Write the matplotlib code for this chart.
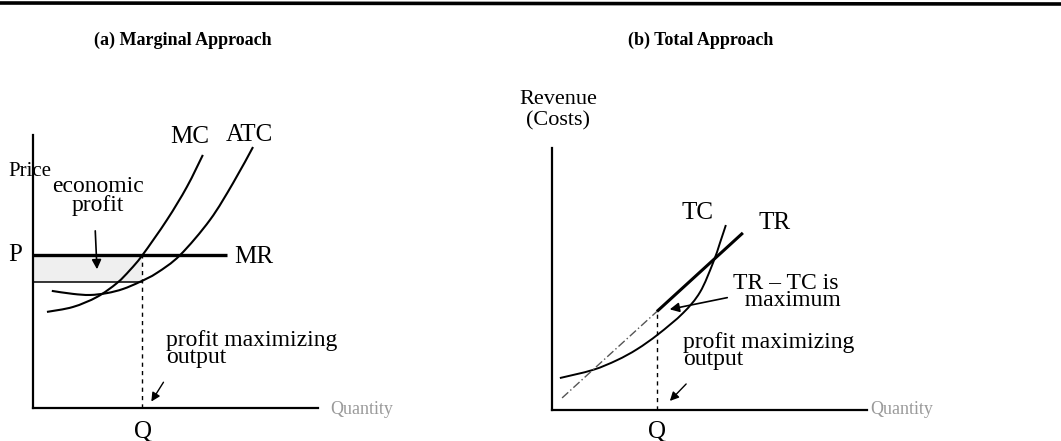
import matplotlib
matplotlib.use("Agg")
import matplotlib.pyplot as plt
import numpy as np
from matplotlib.transforms import Affine2D
from matplotlib.path import Path
from matplotlib.patches import PathPatch

# ---------------- data ----------------
# Panel (a): marginal approach
price_P = 5.6          # market price = MR
atc_at_Q = 4.6         # average total cost at profit-maximizing output
q_star_a = 3.84        # profit-maximizing quantity
mr_end = 6.8
mc_q = [0.49, 1.40, 2.25, 2.95, 3.40, 3.84, 4.70, 5.40, 5.96]
mc_v = [3.52, 3.70, 4.07, 4.58, 5.05, 5.60, 6.89, 8.10, 9.27]
atc_q = [0.66, 1.40, 2.00, 2.60, 3.16, 3.75, 4.35, 5.16, 6.21, 7.02, 7.72]
atc_v = [4.29, 4.18, 4.14, 4.21, 4.36, 4.62, 4.95, 5.60, 6.89, 8.24, 9.56]

# Panel (b): total approach
q_star_b = 3.33
tr_q = [0.32, 3.33, 6.06]
tr_v = [0.46, 3.76, 6.76]
tc_q = [0.25, 1.30, 2.06, 2.70, 3.37, 4.16, 4.70, 5.11, 5.33, 5.52]
tc_v = [1.22, 1.53, 1.90, 2.32, 2.89, 3.70, 4.50, 5.61, 6.37, 7.06]

titles = ["(a) Marginal Approach", "(b) Total Approach"]

# ---------------- figure ----------------
W, H = 1061, 441
fig = plt.figure(figsize=(W / 100, H / 100), dpi=100)
fig.patch.set_facecolor("white")
plt.rcParams["font.family"] = ["Liberation Serif", "DejaVu Serif"]

pix = Affine2D().scale(1, -1).translate(0, H)  # top-left pixel coordinates


def ptext(x, y, s, size=17, ha="left", va="center", **kw):
    fig.text(x, y, s, transform=pix, fontsize=size, ha=ha, va=va, **kw)


def make_ax(x0, x1, ytop, ybot):
    ax = fig.add_axes([x0 / W, 1 - ybot / H, (x1 - x0) / W, (ybot - ytop) / H])
    ax.set_xlim(0, 10)
    ax.set_ylim(0, 10)
    ax.set_xticks([])
    ax.set_yticks([])
    for s in ("top", "right"):
        ax.spines[s].set_visible(False)
    for s in ("left", "bottom"):
        ax.spines[s].set_linewidth(1.6)
    ax.patch.set_alpha(0)
    return ax


def smooth_curve(ax, xs, ys, **kw):
    """Draw a smooth Bezier path through the given points (Catmull-Rom)."""
    p = np.column_stack([xs, ys]).astype(float)
    ext = np.vstack([p[0], p, p[-1]])
    verts = [p[0]]
    codes = [Path.MOVETO]
    for i in range(len(p) - 1):
        p0, p1, p2, p3 = ext[i], ext[i + 1], ext[i + 2], ext[i + 3]
        c1 = p1 + (p2 - p0) / 6.0
        c2 = p2 - (p3 - p1) / 6.0
        verts += [c1, c2, p2]
        codes += [Path.CURVE4] * 3
    ax.add_patch(PathPatch(Path(verts, codes), fill=False, **kw))


# top rule
fig.add_artist(plt.Line2D([0, 1], [1 - 3 / H, 1 - 4 / H], color="black", lw=2.6,
                          transform=fig.transFigure))

# titles
ptext(183, 40, titles[0], size=13, ha="center", fontweight="bold")
ptext(701, 40, titles[1], size=13, ha="center", fontweight="bold")

# ---------------- panel (a) ----------------
axa = make_ax(33, 318, 135, 408)
axa.fill_between([0, q_star_a], atc_at_Q, price_P, color="#efefef", lw=0)
axa.plot([0, mr_end], [price_P, price_P], color="black", lw=2.4, solid_capstyle="butt")
axa.plot([0, q_star_a], [atc_at_Q, atc_at_Q], color="black", lw=1.1)
smooth_curve(axa, mc_q, mc_v, color="black", lw=1.5)
smooth_curve(axa, atc_q, atc_v, color="black", lw=1.5)
axa.plot([q_star_a, q_star_a], [0, price_P], color="black", lw=1.0, ls=(0, (3, 3)))
axa.annotate("", xy=(2.25, 4.98), xytext=(2.18, 6.59),
             arrowprops=dict(arrowstyle="-|>", color="black", lw=1.2, mutation_scale=14),
             annotation_clip=False)
axa.annotate("", xy=(4.1, 0.15), xytext=(4.63, 1.03),
             arrowprops=dict(arrowstyle="-|>", color="black", lw=1.0, mutation_scale=13),
             annotation_clip=False)

ptext(8, 172, "Price", size=15)
ptext(190, 137, "MC", size=18, ha="center")
ptext(249, 135, "ATC", size=18, ha="center")
ptext(98, 196, "economic\nprofit", size=17, ha="center", linespacing=0.85)
ptext(15, 255, "P", size=18, ha="center")
ptext(234, 257, "MR", size=18)
ptext(166, 349, "profit maximizing\noutput", size=17, linespacing=0.72)
ptext(143, 432, "Q", size=18, ha="center")
ptext(330, 410, "Quantity", size=13, color="#9a9a9a")

# ---------------- panel (b) ----------------
axb = make_ax(552, 867, 148, 410)
axb.plot(tr_q[:2], tr_v[:2], color="#555555", lw=1.0, ls=(0, (6, 2, 1, 2)))
axb.plot(tr_q[1:], tr_v[1:], color="black", lw=2.2, solid_capstyle="butt")
smooth_curve(axb, tc_q, tc_v, color="black", lw=1.4)
axb.plot([q_star_b, q_star_b], [0, tr_v[1]], color="black", lw=1.0, ls=(0, (3, 3)))
axb.annotate("", xy=(3.65, 3.82), xytext=(5.65, 4.31),
             arrowprops=dict(arrowstyle="-|>", color="black", lw=1.2, mutation_scale=14),
             annotation_clip=False)
axb.annotate("", xy=(3.68, 0.27), xytext=(4.32, 1.07),
             arrowprops=dict(arrowstyle="-|>", color="black", lw=1.0, mutation_scale=13),
             annotation_clip=False)

ptext(558, 110, "Revenue\n(Costs)", size=16, ha="center", linespacing=1.15)
ptext(698, 213, "TC", size=18, ha="center")
ptext(775, 223, "TR", size=18, ha="center")
ptext(733, 292, "TR \u2013 TC is\n  maximum", size=17, linespacing=0.75)
ptext(683, 351, "profit maximizing\noutput", size=17, linespacing=0.8)
ptext(657, 432, "Q", size=18, ha="center")
ptext(870, 410, "Quantity", size=13, color="#9a9a9a")

fig.savefig("out.png", dpi=100)
